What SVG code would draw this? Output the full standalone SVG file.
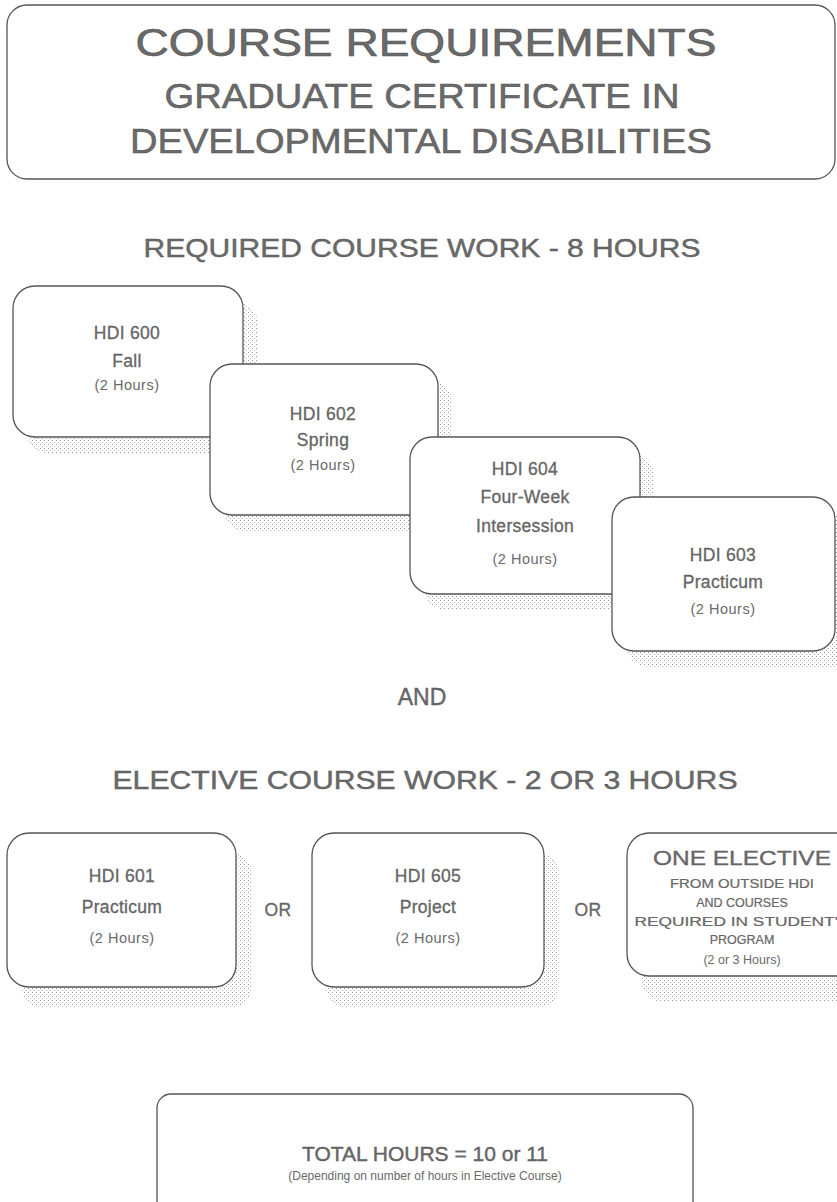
<svg xmlns="http://www.w3.org/2000/svg" width="837" height="1202" viewBox="0 0 837 1202">
<defs>
<pattern id="dots" width="4" height="4" patternUnits="userSpaceOnUse">
<rect width="4" height="4" fill="#ffffff"/>
<rect x="0" y="0" width="1" height="1" fill="#9a9a9a"/>
<rect x="2" y="2" width="1" height="1" fill="#b5b5b5"/>
</pattern>
</defs>
<style>
.box{fill:#ffffff;stroke:#555555;stroke-width:1.3}
.shadow{fill:url(#dots);stroke:none}
text{font-family:"Liberation Sans",Arial,sans-serif;fill:#6a6a6a;text-anchor:middle}
.h1{font-size:38px;stroke:#555;stroke-width:0.6}
.h2{font-size:35px;stroke:#555;stroke-width:0.5}
.sec{font-size:25px;stroke:#555;stroke-width:0.4}
.c1{font-size:17.5px;letter-spacing:0.3px;stroke:#555;stroke-width:0.3}
.c2{font-size:14.5px;letter-spacing:0.5px}
.e1{font-size:20px;stroke:#555;stroke-width:0.3}
.e2{font-size:12.5px;stroke:#555;stroke-width:0.2}
</style>
<rect width="837" height="1202" fill="#ffffff"/>

<g id="title">
<rect class="box" x="7" y="5" width="828" height="174" rx="20"/>
<text class="h1" x="426" y="56" textLength="581" lengthAdjust="spacingAndGlyphs">COURSE REQUIREMENTS</text>
<text class="h2" x="422" y="108" textLength="515" lengthAdjust="spacingAndGlyphs">GRADUATE CERTIFICATE IN</text>
<text class="h2" x="421" y="153" textLength="582" lengthAdjust="spacingAndGlyphs">DEVELOPMENTAL DISABILITIES</text>
</g>

<g id="required-heading">
<text class="sec" x="422" y="257" textLength="557" lengthAdjust="spacingAndGlyphs">REQUIRED COURSE WORK -  8 HOURS</text>
</g>

<g id="hdi600">
<rect class="shadow" x="27" y="302" width="231" height="152" rx="22"/>
<rect class="box" x="13" y="286" width="230" height="151" rx="22"/>
<text class="c1" x="127" y="339">HDI 600</text>
<text class="c1" x="127" y="367">Fall</text>
<text class="c2" x="127" y="390">(2 Hours)</text>
</g>

<g id="hdi602">
<rect class="shadow" x="224" y="380" width="228" height="152" rx="22"/>
<rect class="box" x="210" y="364" width="228" height="151" rx="22"/>
<text class="c1" x="323" y="420">HDI 602</text>
<text class="c1" x="323" y="446">Spring</text>
<text class="c2" x="323" y="470">(2 Hours)</text>
</g>

<g id="hdi604">
<rect class="shadow" x="424" y="453" width="230" height="157" rx="22"/>
<rect class="box" x="410" y="437" width="230" height="157" rx="22"/>
<text class="c1" x="525" y="475">HDI 604</text>
<text class="c1" x="525" y="503">Four-Week</text>
<text class="c1" x="525" y="532">Intersession</text>
<text class="c2" x="525" y="564">(2 Hours)</text>
</g>

<g id="hdi603">
<rect class="shadow" x="626" y="513" width="230" height="154" rx="22"/>
<rect class="box" x="612" y="497" width="223" height="154" rx="22"/>
<text class="c1" x="723" y="561">HDI 603</text>
<text class="c1" x="723" y="588">Practicum</text>
<text class="c2" x="723" y="614">(2 Hours)</text>
</g>

<g id="and">
<text class="sec" x="422" y="705" style="font-size:23px">AND</text>
</g>

<g id="elective-heading">
<text class="sec" x="425" y="789" textLength="625" lengthAdjust="spacingAndGlyphs">ELECTIVE COURSE WORK -  2 OR 3 HOURS</text>
</g>

<g id="hdi601">
<rect class="shadow" x="21" y="852" width="231" height="156" rx="22"/>
<rect class="box" x="7" y="833" width="229" height="154" rx="22"/>
<text class="c1" x="122" y="882">HDI 601</text>
<text class="c1" x="122" y="913">Practicum</text>
<text class="c2" x="122" y="943">(2 Hours)</text>
</g>

<g id="or1">
<text class="c1" x="278" y="916">OR</text>
</g>

<g id="hdi605">
<rect class="shadow" x="326" y="852" width="233" height="156" rx="22"/>
<rect class="box" x="312" y="833" width="232" height="154" rx="22"/>
<text class="c1" x="428" y="882">HDI 605</text>
<text class="c1" x="428" y="913">Project</text>
<text class="c2" x="428" y="943">(2 Hours)</text>
</g>

<g id="or2">
<text class="c1" x="588" y="916">OR</text>
</g>

<g id="elective">
<rect class="shadow" x="641" y="852" width="220" height="150" rx="22"/>
<rect class="box" x="627" y="833" width="232" height="143" rx="22"/>
<text class="e1" x="742" y="865" textLength="178" lengthAdjust="spacingAndGlyphs">ONE ELECTIVE</text>
<text class="e2" x="742" y="888" textLength="144" lengthAdjust="spacingAndGlyphs">FROM OUTSIDE HDI</text>
<text class="e2" x="742" y="907">AND COURSES</text>
<text class="e2" x="742" y="926" textLength="215" lengthAdjust="spacingAndGlyphs">REQUIRED IN STUDENT'S</text>
<text class="e2" x="742" y="944">PROGRAM</text>
<text class="e2" x="742" y="964" style="stroke:none">(2 or 3 Hours)</text>
</g>

<g id="total">
<rect class="box" x="157" y="1094" width="536" height="130" rx="14"/>
<text class="sec" x="425" y="1161" style="font-size:21px">TOTAL HOURS = 10 or 11</text>
<text class="c2" x="425" y="1180" style="font-size:12px;letter-spacing:0">(Depending on number of hours in Elective Course)</text>
</g>

<g id="connectors"></g>
</svg>
